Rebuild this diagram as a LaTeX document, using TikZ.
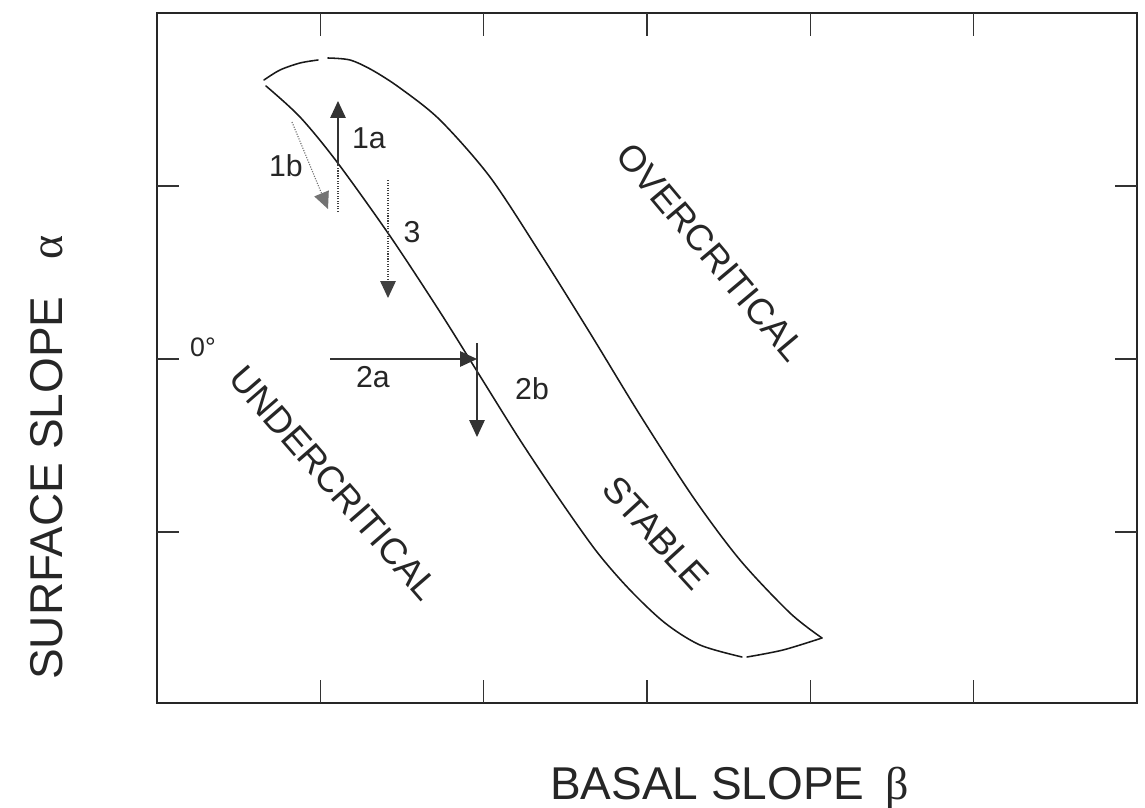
\documentclass[tikz,border=0pt]{standalone}
\usepackage{fontspec}
\setmainfont{Liberation Sans}
\newfontfamily\greekfont{Liberation Serif}
\usetikzlibrary{arrows.meta}
\begin{document}
\begin{tikzpicture}[x=0.025cm,y=-0.025cm,
  frame/.style={line width=1.1pt, draw=black!85},
  tickmark/.style={line width=0.9pt, draw=black!80},
  curve/.style={line width=1.1pt, draw=black!90, line join=round, line cap=round},
  arr/.style={line width=0.8pt, draw=black!80, -{Triangle[length=12pt,width=11pt]}},
  dotarr/.style={line width=0.8pt, draw=black!75, densely dotted, -{Triangle[length=12pt,width=11pt]}},
  dotline/.style={line width=0.8pt, draw=black!75, densely dotted},
  lab/.style={font=\fontsize{21.5}{25}\selectfont, text=black!85, inner sep=0pt},
  region/.style={font=\fontsize{26}{30}\selectfont, text=black!85, inner sep=0pt},
  axislab/.style={font=\fontsize{32.7}{38}\selectfont, text=black!85, inner sep=0pt}]
\useasboundingbox (0,0) rectangle (1145,808);
\fill[white] (0,0) rectangle (1145,808);

% frame
\coordinate (tl) at (157,13);
\coordinate (br) at (1137,703);
\draw[frame] (tl) rectangle (br);
\foreach \x in {320.3,483.7,647,810.3,973.7}{
  \draw[tickmark] (\x,703) -- (\x,680);
  \draw[tickmark] (\x,13) -- (\x,36);
}
\foreach \y in {186,359,532}{
  \draw[tickmark] (157,\y) -- (179,\y);
  \draw[tickmark] (1137,\y) -- (1115,\y);
}

% upper (right) boundary
\draw[curve] plot[smooth] coordinates {(264,80) (280,70) (300,63) (318,60)};
\draw[curve] plot[smooth] coordinates {(328,58) (350,60) (372,70) (400,88) (440,120) (490,177) (540,253) (590,333) (640,415) (693,497) (740,560) (790,613) (822,638)};
% lower (left) boundary
\draw[curve] plot[smooth] coordinates {(266,86) (300,117) (337,162) (390,236) (440,312) (480,376) (520,440) (560,500) (597,552) (630,590) (665,623) (700,645) (742,657)};
\draw[curve] plot[smooth] coordinates {(747,657) (783,650) (822,638)};

% arrows
\coordinate (a1s) at (338,212);
\coordinate (a1m) at (338,165);
\coordinate (a1e) at (338,101);
\draw[dotline] (a1s) -- (a1m);
\draw[arr] (a1m) -- (a1e);
\coordinate (b1s) at (292,122);
\coordinate (b1e) at (328,209);
\draw[dotarr, draw=black!55] (b1s) -- (b1e);
\coordinate (c3s) at (388,180);
\coordinate (c3e) at (388,298);
\draw[dotarr] (c3s) -- (c3e);
\coordinate (a2s) at (330,359);
\coordinate (a2e) at (477,359);
\draw[arr] (a2s) -- (a2e);
\coordinate (b2s) at (477,343);
\coordinate (b2e) at (477,437);
\draw[arr] (b2s) -- (b2e);

% labels
\node[lab] (l1a) at (369,138) {1a};
\node[lab] (l1b) at (286,166) {1b};
\node[lab] (l3) at (412,232) {3};
\node[lab] (l2a) at (373,377) {2a};
\node[lab] (l2b) at (532,389) {2b};
\node[lab, font=\fontsize{19}{22}\selectfont] (l0) at (203,347) {0°};

\node[region, rotate=-50] (over) at (711,252) {OVERCRITICAL};
\node[region, rotate=-49] (under) at (334,483) {UNDERCRITICAL};
\node[region, rotate=-47.5] (stable) at (656,533) {STABLE};

\node[axislab, anchor=base west] (xlab) at (550,799) {BASAL SLOPE\ \,{\greekfont β}};
\node[axislab, anchor=base west, rotate=90] (ylab) at (62,680) {SURFACE SLOPE\hspace{0.8em}{\greekfont α}};
\end{tikzpicture}
\end{document}
